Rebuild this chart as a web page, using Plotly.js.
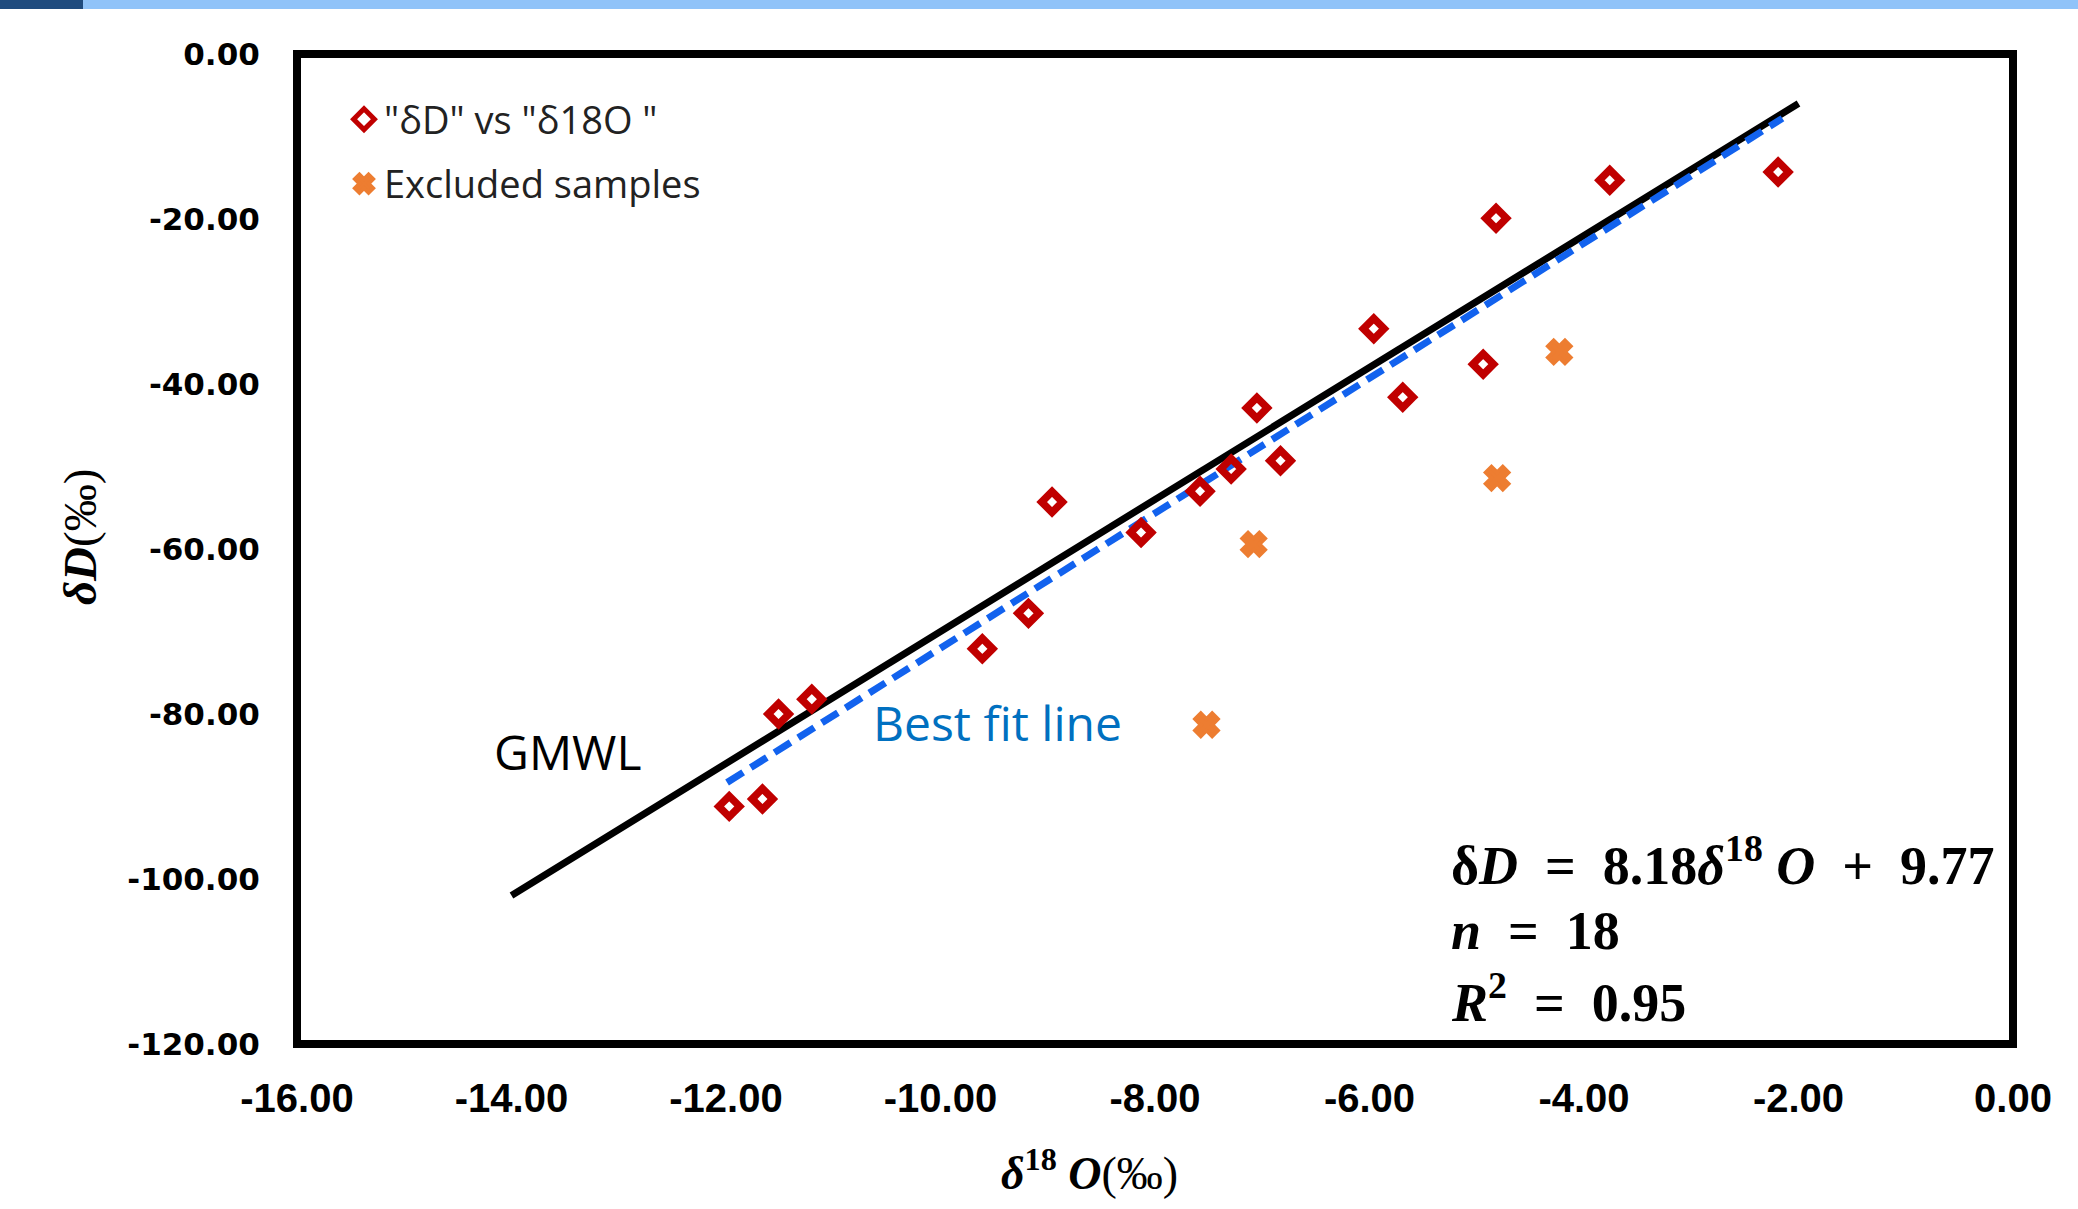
<!DOCTYPE html>
<html><head><meta charset="utf-8">
<script src="https://cdn.plot.ly/plotly-3.0.1.min.js"></script>
<style>html,body{margin:0;padding:0;background:#fff}#chart{width:2078px;height:1209px}</style>
</head><body><div id="chart"></div>
<script>
// Included samples (δ18O, δD)
const sampleO18 = [-11.97, -11.66, -11.51, -11.20, -9.61, -9.18, -8.96, -8.13, -7.58, -7.29, -7.05, -6.83, -5.96, -5.69, -4.94, -4.82, -3.76, -2.19];
const sampleD   = [-91.2, -90.3, -80.0, -78.2, -72.1, -67.8, -54.3, -58.0, -53.0, -50.3, -42.9, -49.3, -33.3, -41.6, -37.6, -19.9, -15.3, -14.3];
// Excluded samples
const excludedO18 = [-7.52, -7.08, -4.81, -4.23];
const excludedD   = [-81.3, -59.4, -51.4, -36.1];
// Global meteoric water line
const gmwlO18 = [-14, -2];
const gmwlD   = [-102, -6];
// Best fit line
const fitO18 = [-11.99, -2.15];
const fitD   = [-88.3, -7.8];
// Ticks
const xTickVals = [-16, -14, -12, -10, -8, -6, -4, -2, 0];
const xTickLabels = ['-16.00', '-14.00', '-12.00', '-10.00', '-8.00', '-6.00', '-4.00', '-2.00', '0.00'];
const yTickVals = [0, -20, -40, -60, -80, -100, -120];
const yTickLabels = ['0.00', '-20.00', '-40.00', '-60.00', '-80.00', '-100.00', '-120.00'];

const W = 2078, H = 1209;
const M = {l: 297, r: 65, t: 54, b: 165};
const PW = W - M.l - M.r, PH = H - M.t - M.b;
const px = v => (v - M.l) / PW;      // pixel x -> paper
const py = v => 1 - (v - M.t) / PH;  // pixel y -> paper

const serif = 'Liberation Serif, DejaVu Serif, serif';
const ui = 'Open Sans, Noto Sans, sans-serif';
const sp = '&nbsp;';

const traces = [
  {x: gmwlO18, y: gmwlD, mode: 'lines', showlegend: false, hoverinfo: 'skip',
   line: {color: '#000000', width: 7}},
  {x: fitO18, y: fitD, mode: 'lines', showlegend: false, hoverinfo: 'skip',
   line: {color: '#1262EE', width: 7, dash: '19px,9px'}},
  {x: sampleO18, y: sampleD, mode: 'markers', name: '"δD" vs "δ18O "', legendgroup: 'a',
   marker: {symbol: 'diamond-open', size: 16, color: '#C00000', line: {width: 7.5, color: '#C00000'}}},
  {x: excludedO18, y: excludedD, mode: 'markers', name: 'Excluded samples', legendgroup: 'b',
   marker: {symbol: 'x', size: 20, color: '#ED7D31', line: {width: 4, color: '#ED7D31'}}}
];

const layout = {
  width: W, height: H,
  margin: M,
  paper_bgcolor: '#ffffff', plot_bgcolor: '#ffffff',
  showlegend: true,
  legend: {x: px(344), xanchor: 'left', y: py(88), yanchor: 'top',
           bgcolor: 'rgba(0,0,0,0)', borderwidth: 0, tracegroupgap: 12,
           font: {family: ui, size: 38, color: '#222222'}},
  xaxis: {range: [-16, 0], tickvals: xTickVals, ticktext: xTickLabels,
          showgrid: false, zeroline: false, showline: false,
          ticks: 'outside', ticklen: 19, tickcolor: 'rgba(0,0,0,0)',
          tickfont: {family: 'Liberation Sans Narrow, Liberation Sans, sans-serif', size: 40, color: '#000', weight: 'bold'}},
  yaxis: {range: [-120, 0], tickvals: yTickVals, ticktext: yTickLabels,
          showgrid: false, zeroline: false, showline: false,
          ticks: 'outside', ticklen: 30, tickcolor: 'rgba(0,0,0,0)',
          tickfont: {family: 'DejaVu Sans, sans-serif', size: 31, color: '#000', weight: 'bold'}},
  shapes: [
    {type: 'rect', xref: 'paper', yref: 'paper', x0: px(0), x1: px(83), y0: py(0), y1: py(9),
     fillcolor: '#1F4B7E', line: {width: 0}, layer: 'above'},
    {type: 'rect', xref: 'paper', yref: 'paper', x0: px(83), x1: px(W), y0: py(0), y1: py(9),
     fillcolor: '#90C3F9', line: {width: 0}, layer: 'above'},
    {type: 'rect', xref: 'paper', yref: 'paper', x0: 0, x1: 1, y0: 0, y1: 1,
     line: {color: '#000000', width: 8}, fillcolor: 'rgba(0,0,0,0)', layer: 'above'}
  ],
  annotations: [
    {xref: 'paper', yref: 'paper', x: px(80), y: py(537), textangle: -90, showarrow: false,
     xanchor: 'center', yanchor: 'middle',
     text: '<b><i>δD</i></b>(‰)', font: {family: serif, size: 47, color: '#000'}},
    {xref: 'paper', yref: 'paper', x: px(1089), y: py(1170), showarrow: false,
     xanchor: 'center', yanchor: 'middle',
     text: '<b><i>δ</i><sup>18</sup> <i>O</i></b>(‰)', font: {family: serif, size: 46, color: '#000'}},
    {x: -13.48, y: -84.5, showarrow: false, xanchor: 'center', yanchor: 'middle',
     text: 'GMWL', font: {family: ui, size: 48, color: '#000'}},
    {x: -9.47, y: -81.0, showarrow: false, xanchor: 'center', yanchor: 'middle',
     text: 'Best fit line', font: {family: ui, size: 48, color: '#0070C0'}},
    {xref: 'paper', yref: 'paper', x: px(1449), y: py(861), showarrow: false, xanchor: 'left', yanchor: 'middle',
     text: '<b>δ<i>D</i> ' + sp + '=' + sp + ' 8.18<i>δ</i><sup>18</sup> <i>O</i> ' + sp + '+' + sp + ' 9.77</b>',
     font: {family: serif, size: 54, color: '#000'}},
    {xref: 'paper', yref: 'paper', x: px(1449), y: py(931), showarrow: false, xanchor: 'left', yanchor: 'middle',
     text: '<b><i>n</i> ' + sp + '=' + sp + ' 18</b>', font: {family: serif, size: 54, color: '#000'}},
    {xref: 'paper', yref: 'paper', x: px(1449), y: py(998), showarrow: false, xanchor: 'left', yanchor: 'middle',
     text: '<b><i>R</i><sup>2</sup> ' + sp + '=' + sp + ' 0.95</b>', font: {family: serif, size: 54, color: '#000'}}
  ]
};

Plotly.newPlot('chart', traces, layout, {staticPlot: true, displayModeBar: false});
</script>
</body></html>
